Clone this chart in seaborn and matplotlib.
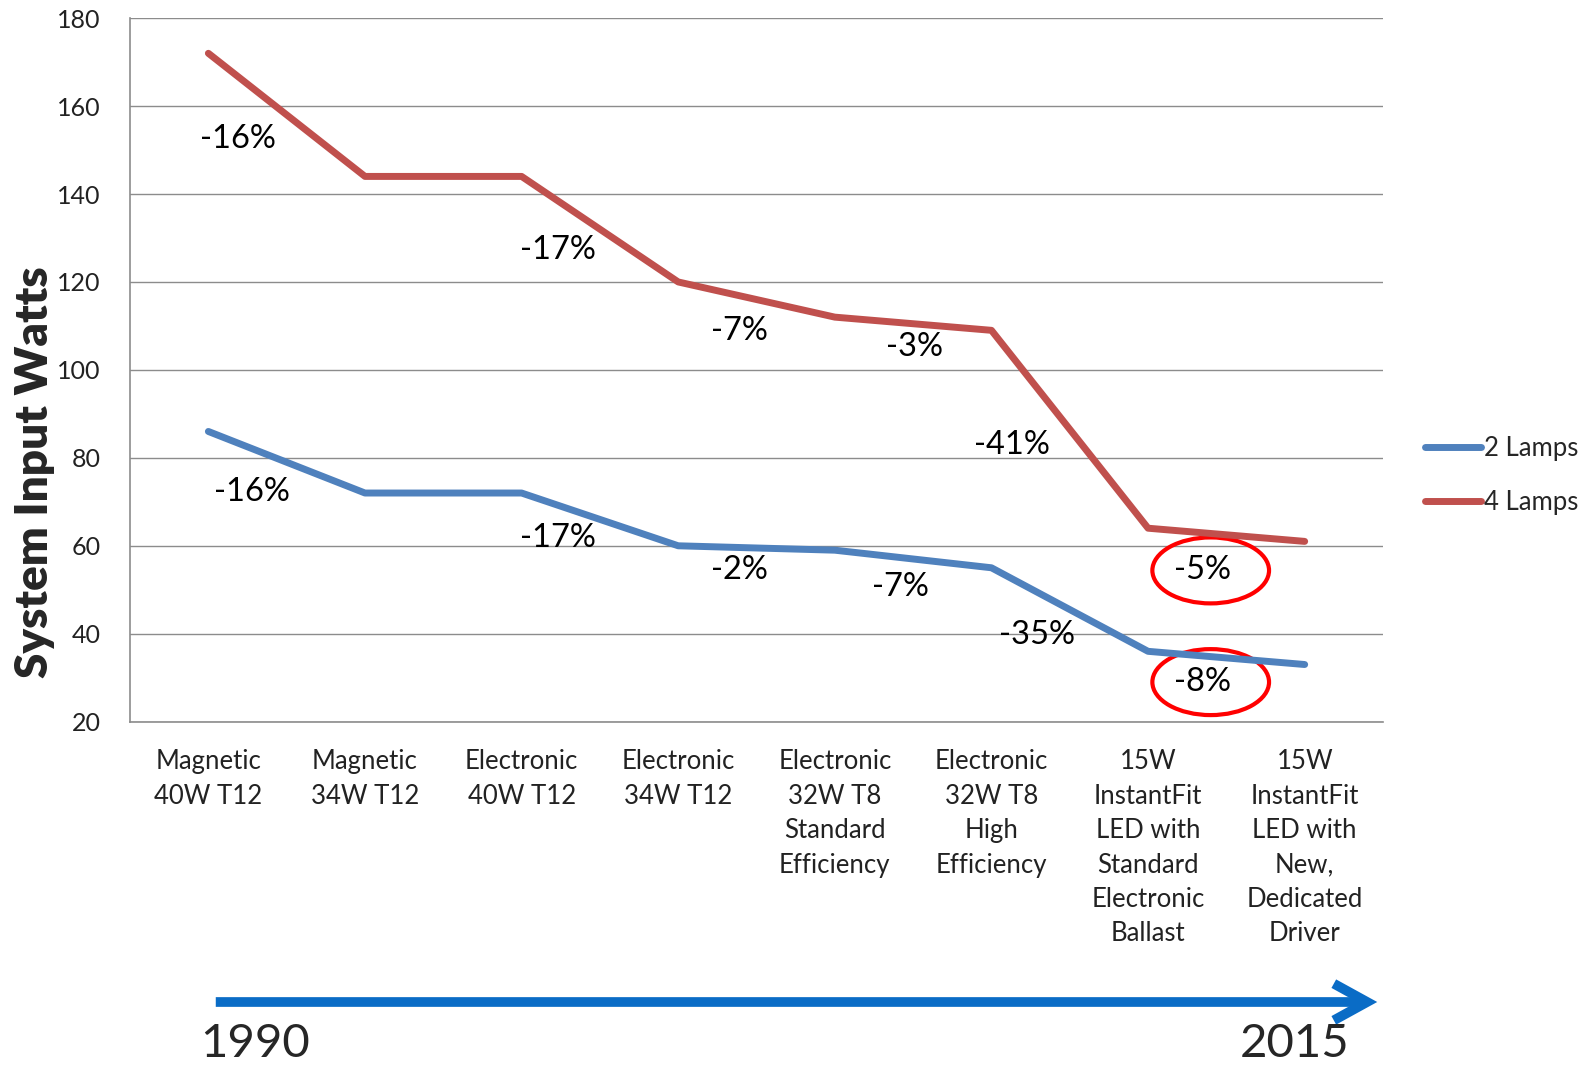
import matplotlib
matplotlib.use("Agg")
import matplotlib.pyplot as plt
from matplotlib.patches import Ellipse, FancyArrowPatch
import seaborn as sns
import pandas as pd

categories = ['Magnetic\n40W T12', 'Magnetic\n34W T12', 'Electronic\n40W T12',
              'Electronic\n34W T12', 'Electronic\n32W T8\nStandard\nEfficiency',
              'Electronic\n32W T8\nHigh\nEfficiency',
              '15W\nInstantFit\nLED with\nStandard\nElectronic\nBallast',
              '15W\nInstantFit\nLED with\nNew,\nDedicated\nDriver']
two_lamps = [86, 72, 72, 60, 59, 55, 36, 33]
four_lamps = [172, 144, 144, 120, 112, 109, 64, 61]

# percent change labels: (text, x position, y position)
four_labels = [('-16%', 0.19, 152.6), ('-17%', 2.23, 127.2), ('-7%', 3.39, 108.8),
               ('-3%', 4.51, 105.1), ('-41%', 5.13, 82.9), ('-5%', 6.35, 54.4)]
two_labels = [('-16%', 0.28, 72.3), ('-17%', 2.23, 61.7), ('-2%', 3.39, 54.4),
              ('-7%', 4.42, 50.7), ('-35%', 5.29, 39.6), ('-8%', 6.35, 29.0)]
circled = [(6.40, 54.4), (6.40, 29.0)]

df = pd.DataFrame({
    'x': list(range(len(categories))) * 2,
    'Watts': two_lamps + four_lamps,
    'Series': ['2 Lamps'] * len(categories) + ['4 Lamps'] * len(categories),
})

sns.set_style('white')
plt.rcParams['font.family'] = ['Lato', 'DejaVu Sans']

fig = plt.figure(figsize=(15.9, 10.66), dpi=100)
ax = fig.add_axes([0.0818, 0.323, 0.788, 0.660])

sns.lineplot(data=df, x='x', y='Watts', hue='Series',
             palette={'2 Lamps': '#4F81BD', '4 Lamps': '#C0504D'},
             linewidth=5, solid_capstyle='round', solid_joinstyle='round',
             legend=False, ax=ax)

ax.set_xlim(-0.5, len(categories) - 0.5)
ax.set_ylim(20, 180)
ax.set_yticks(range(20, 181, 20))
ax.yaxis.grid(True, color='#8c8c8c', linewidth=1)
ax.set_axisbelow(True)
for s in ['top', 'right']:
    ax.spines[s].set_visible(False)
for s in ['left', 'bottom']:
    ax.spines[s].set_color('#8c8c8c')
    ax.spines[s].set_linewidth(1.2)

ax.set_xticks([i - 0.5 for i in range(len(categories) + 1)])
ax.set_xticklabels([])
ax.set_xticks(range(len(categories)), minor=True)
ax.set_xticklabels(categories, minor=True, fontsize=18.5, color='#222222', linespacing=1.47,
                   va='top')
ax.tick_params(axis='x', which='major', direction='out', length=9, color='#8c8c8c')
ax.tick_params(axis='x', which='minor', length=0, pad=20)
ax.tick_params(axis='y', direction='out', length=7, color='#8c8c8c',
               labelsize=18, labelcolor='#222222', pad=14)
ax.set_xlabel('')
ax.set_ylabel('System Input Watts', fontsize=33, fontweight='heavy')
ax.yaxis.set_label_coords(-0.060, 0.354)

for txt, xp, yp in four_labels + two_labels:
    ax.text(xp, yp, txt, fontsize=23.5, ha='center', va='center', color='black')

for cx, cy in circled:
    ax.add_patch(Ellipse((cx, cy), 0.745, 15, fill=False, edgecolor='#ff0000', linewidth=3))

# legend outside on the right
ax.plot([], [], color='#4F81BD', linewidth=5, solid_capstyle='round', label='2 Lamps')
ax.plot([], [], color='#C0504D', linewidth=5, solid_capstyle='round', label='4 Lamps')
ax.legend(loc='center left', bbox_to_anchor=(1.015, 0.35), frameon=False, fontsize=18.5,
          handlelength=2.2, handletextpad=0.1, labelspacing=1.15)

# timeline arrow
fig.patches.append(FancyArrowPatch(
    (213 / 1590, 1 - 1002 / 1066), (1380 / 1590, 1 - 1002 / 1066),
    transform=fig.transFigure, arrowstyle='->,head_length=0.6,head_width=0.33',
    mutation_scale=40, color='#0A6CC6', linewidth=7, capstyle='butt', joinstyle='miter'))
fig.text(200 / 1590, 1 - 1044 / 1066, '1990', fontsize=34, ha='left', va='center')
fig.text(1349 / 1590, 1 - 1044 / 1066, '2015', fontsize=34, ha='right', va='center')

fig.savefig('out.png', dpi=100)
